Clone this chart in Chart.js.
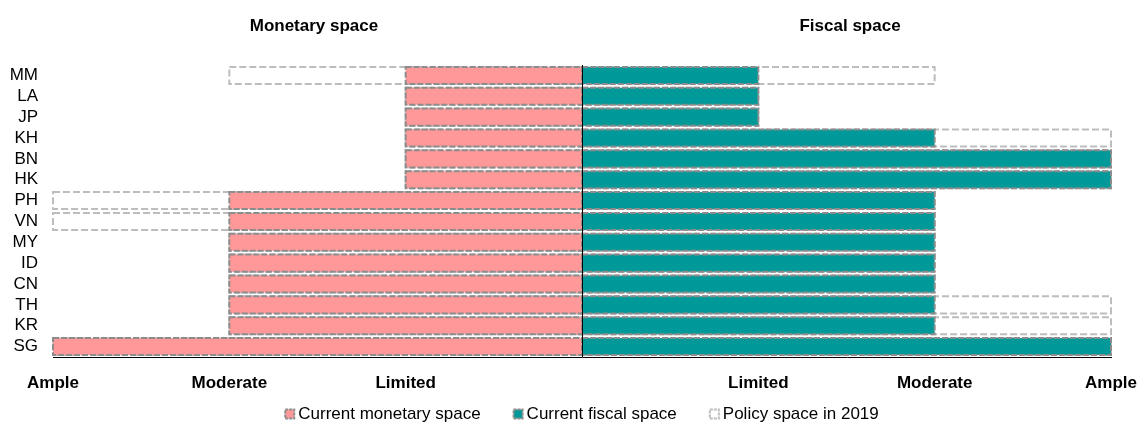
<!DOCTYPE html>
<html><head><meta charset="utf-8">
<script src="https://cdn.jsdelivr.net/npm/chart.js@4.4.1/dist/chart.umd.min.js"></script>
<style>html,body{margin:0;padding:0;background:#fff;}#wrap{width:1147px;height:430px;}</style>
</head><body><div id="wrap"><canvas id="c" width="1147" height="430"></canvas></div>
<script>
const economies = ['MM','LA','JP','KH','BN','HK','PH','VN','MY','ID','CN','TH','KR','SG'];
const monetaryNow  = [1,1,1,1,1,1,2,2,2,2,2,2,2,3];
const fiscalNow    = [1,1,1,2,3,3,2,2,2,2,2,2,2,3];
const monetary2019 = [2,1,1,1,1,1,3,3,2,2,2,2,2,3];
const fiscal2019   = [2,1,1,3,3,3,2,2,2,2,2,3,3,3];
const levelLabels  = ['Limited','Moderate','Ample'];
const panelTitles  = ['Monetary space','Fiscal space'];
const legendNames  = ['Current monetary space','Current fiscal space','Policy space in 2019'];

const FONT = '"Liberation Sans", Arial, sans-serif';
const PINK = '#FF9999', TEAL = '#009999', DARK = '#8c8c8c', LIGHT = '#bdbdbd';

const dashedOutline = {
  id: 'dashedOutline',
  afterDatasetDraw(chart, args) {
    const ds = chart.data.datasets[args.index];
    const ctx = chart.ctx;
    ctx.save();
    ctx.strokeStyle = ds.outlineColor; ctx.lineWidth = 2; ctx.setLineDash(ds.outlineDash);
    args.meta.data.forEach(el => {
      const p = el.getProps(['x', 'y', 'base', 'height'], true);
      const l = Math.min(p.x, p.base), r = Math.max(p.x, p.base);
      ctx.strokeRect(l, p.y - p.height / 2, r - l, p.height);
    });
    ctx.restore();
  }
};

const extras = {
  id: 'extras',
  afterDatasetsDraw(chart) {
    const ctx = chart.ctx, xs = chart.scales.x, a = chart.chartArea;
    const x0 = Math.round(xs.getPixelForValue(0)) + 0.5;
    ctx.save();
    ctx.strokeStyle = '#000'; ctx.lineWidth = 1;
    ctx.beginPath(); ctx.moveTo(x0, a.top); ctx.lineTo(x0, a.bottom); ctx.stroke();
    ctx.restore();
  },
  afterDraw(chart) {
    const ctx = chart.ctx, xs = chart.scales.x;
    ctx.save();
    ctx.fillStyle = '#000';
    ctx.font = 'bold 17px ' + FONT;
    ctx.textAlign = 'center'; ctx.textBaseline = 'middle';
    ctx.fillText(panelTitles[0], xs.getPixelForValue(-1.52), 26);
    ctx.fillText(panelTitles[1], xs.getPixelForValue(1.52), 26);
    // legend
    ctx.font = '17px ' + FONT;
    const fills = [PINK, TEAL, '#ffffff'];
    const strokes = [DARK, DARK, LIGHT];
    const box = 9, gapText = 4, gapItem = 33;
    const widths = legendNames.map(t => box + gapText + ctx.measureText(t).width);
    const total = widths.reduce((s, w) => s + w, 0) + gapItem * (widths.length - 1);
    let x = xs.getPixelForValue(0) - total / 2;
    const y = 414;
    ctx.textAlign = 'left';
    legendNames.forEach((t, i) => {
      ctx.fillStyle = fills[i];
      ctx.fillRect(x, y - box / 2, box, box);
      ctx.strokeStyle = strokes[i]; ctx.lineWidth = 2; ctx.setLineDash([3, 1]);
      ctx.strokeRect(x, y - box / 2, box, box);
      ctx.setLineDash([]);
      ctx.fillStyle = '#000';
      ctx.fillText(t, x + box + gapText, y);
      x += widths[i] + gapItem;
    });
    ctx.restore();
  }
};

const neg = arr => arr.map(v => -v);

new Chart(document.getElementById('c'), {
  type: 'bar',
  data: {
    labels: economies,
    datasets: [
      { label: legendNames[0], data: neg(monetaryNow), backgroundColor: PINK, outlineColor: DARK, outlineDash: [6, 2], order: 1 },
      { label: legendNames[1], data: fiscalNow, backgroundColor: TEAL, outlineColor: DARK, outlineDash: [6, 2], order: 1 },
      { label: legendNames[2], data: neg(monetary2019), backgroundColor: '#ffffff', outlineColor: LIGHT, outlineDash: [7, 3], order: 2 },
      { label: legendNames[2] + ' ', data: fiscal2019, backgroundColor: '#ffffff', outlineColor: LIGHT, outlineDash: [7, 3], order: 2 }
    ]
  },
  options: {
    indexAxis: 'y',
    responsive: false,
    animation: false,
    devicePixelRatio: 1,
    datasets: { bar: { grouped: false, barPercentage: 0.82, categoryPercentage: 1, borderWidth: 0 } },
    layout: { padding: { left: 0, right: 36, top: 65, bottom: 0 } },
    plugins: { legend: { display: false }, tooltip: { enabled: false } },
    scales: {
      x: {
        min: -3, max: 3,
        afterBuildTicks: s => { s.ticks = [-3, -2, -1, 0, 1, 2, 3].map(v => ({ value: v })); },
        afterFit: s => { s.height = 73; s.paddingLeft = 0; s.paddingRight = 0; },
        grid: { display: false, drawTicks: false },
        border: { display: true, color: '#000', width: 1 },
        ticks: {
          autoSkip: false, maxRotation: 0, padding: 16, color: '#000',
          font: { family: FONT, size: 17, weight: 'bold' },
          callback: v => v === 0 ? '' : levelLabels[Math.abs(v) - 1]
        }
      },
      y: {
        afterFit: s => { s.width = 53; },
        grid: { display: false, drawTicks: false },
        border: { display: false },
        ticks: { autoSkip: false, padding: 15, color: '#000', font: { family: FONT, size: 17 } }
      }
    }
  },
  plugins: [dashedOutline, extras]
});
</script></body></html>
